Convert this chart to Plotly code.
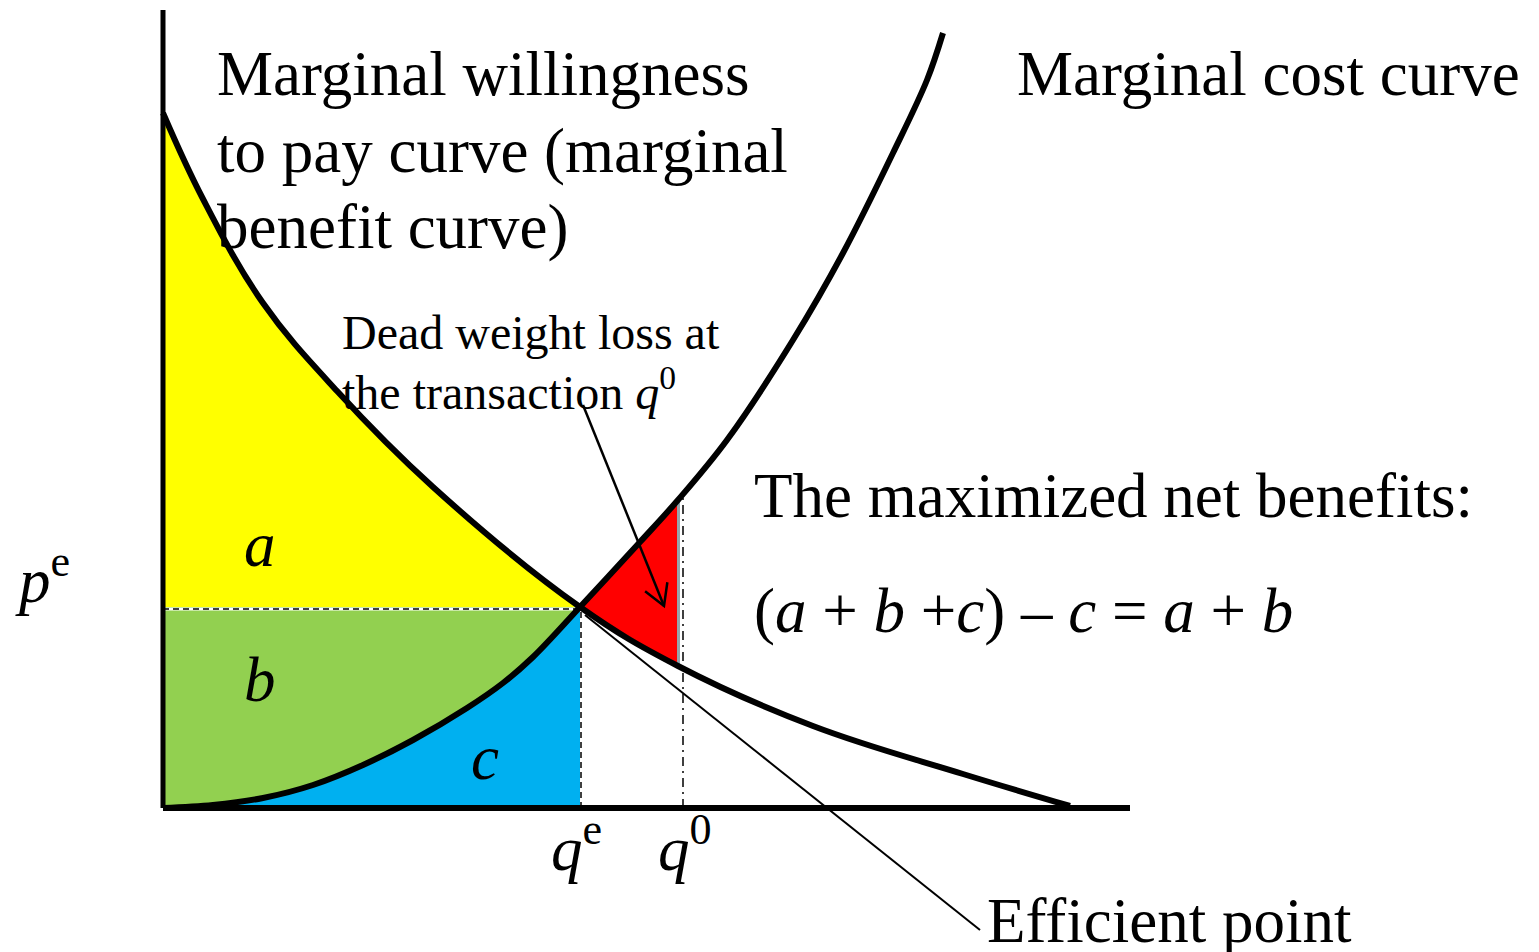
import numpy as np
import plotly.graph_objects as go

# ---- data (quantity q, price p) ----
mb_q = [0, 40, 100, 174, 270, 417, 515, 650, 800, 907]
mb_p = [695, 609, 505, 417, 321, 201, 142, 82, 34, 2]

mc_q = [0, 50, 100, 150, 200, 250, 304, 340, 370, 417, 477, 515, 564, 630, 680, 730, 764, 780]
mc_p = [0, 3, 10, 23, 43, 68, 100, 125, 151, 201, 266, 308, 368, 468, 555, 655, 728, 775]

q_e = 417
p_e = 201
q_0 = 520
q_0_edge = 515

axis_q_max = 967
axis_p_max = 798

SERIF = "Liberation Serif, Times New Roman, serif"

fig = go.Figure()

def seg(qs, ps, lo, hi):
    a = [(q, p) for q, p in zip(qs, ps) if lo <= q <= hi]
    return [x[0] for x in a], [x[1] for x in a]

SM = 1.1

# blue area c (under MC up to q_e)
cq, cp = seg(mc_q, mc_p, 0, q_e)
fig.add_trace(go.Scatter(x=cq, y=cp, mode="lines", line=dict(width=0, shape="spline"),
                         fill="tozeroy", fillcolor="#00B0F0", hoverinfo="skip"))
# green area b (between p_e and MC)
fig.add_trace(go.Scatter(x=[0, q_e], y=[p_e, p_e], mode="lines", line=dict(width=0),
                         fill="tonexty", fillcolor="#92D050", hoverinfo="skip"))
# yellow area a (between MB and p_e)
aq, ap = seg(mb_q, mb_p, 0, q_e)
fig.add_trace(go.Scatter(x=aq, y=ap, mode="lines", line=dict(width=0, shape="spline", smoothing=SM),
                         fill="tonexty", fillcolor="#FFFF00", hoverinfo="skip"))
# red dead weight loss
rq1, rp1 = seg(mb_q, mb_p, q_e, q_0_edge)
rq2, rp2 = seg(mc_q, mc_p, q_e, q_0_edge)
fig.add_trace(go.Scatter(x=rq1, y=rp1, mode="lines", line=dict(width=0, shape="spline"),
                         hoverinfo="skip"))
fig.add_trace(go.Scatter(x=rq2, y=rp2, mode="lines", line=dict(width=0, shape="spline"),
                         fill="tonexty", fillcolor="#FF0000", hoverinfo="skip"))

# grey edge at q0
fig.add_trace(go.Scatter(x=[q_0_edge + 0.5, q_0_edge + 0.5], y=[rp1[-1] - 2, rp2[-1] + 3], mode="lines",
                         line=dict(color="#95A5AD", width=3), hoverinfo="skip"))

# dashed guides
fig.add_trace(go.Scatter(x=[0, q_e], y=[p_e - 2, p_e - 2], mode="lines",
                         line=dict(color="white", width=3), hoverinfo="skip"))
fig.add_trace(go.Scatter(x=[0, q_e], y=[p_e - 2, p_e - 2], mode="lines",
                         line=dict(color="black", width=1.5, dash="6px,4px"), hoverinfo="skip"))
fig.add_trace(go.Scatter(x=[q_e + 1, q_e + 1], y=[0, p_e - 4], mode="lines",
                         line=dict(color="black", width=1.5, dash="6px,4px"), hoverinfo="skip"))
fig.add_trace(go.Scatter(x=[q_0, q_0], y=[0, rp2[-1] + 8], mode="lines",
                         line=dict(color="black", width=1.5, dash="9px,5px,2px,5px"), hoverinfo="skip"))

# efficient point pointer line
ef_start = (q_e + 5, p_e - 8)
ef_end = (817, -122)
fig.add_trace(go.Scatter(x=[ef_start[0], ef_end[0]], y=[ef_start[1], ef_end[1]], mode="lines",
                         line=dict(color="black", width=2), hoverinfo="skip"))

# curves
fig.add_trace(go.Scatter(x=mb_q, y=mb_p, mode="lines",
                         line=dict(color="black", width=6, shape="spline", smoothing=SM),
                         hoverinfo="skip"))
fig.add_trace(go.Scatter(x=mc_q, y=mc_p, mode="lines", line=dict(color="black", width=6, shape="spline"),
                         hoverinfo="skip"))

# axes
fig.add_trace(go.Scatter(x=[0, 0], y=[0, axis_p_max], mode="lines", line=dict(color="black", width=5),
                         hoverinfo="skip"))
fig.add_trace(go.Scatter(x=[0, axis_q_max], y=[0, 0], mode="lines", line=dict(color="black", width=6),
                         hoverinfo="skip"))

# dead weight loss arrow (open V head)
a0 = np.array([420.0, 403.0])
a1 = np.array([501.0, 202.0])
d = (a1 - a0) / np.linalg.norm(a1 - a0)
ang = np.deg2rad(30)
L = 24
def rot(v, t):
    return np.array([v[0] * np.cos(t) - v[1] * np.sin(t), v[0] * np.sin(t) + v[1] * np.cos(t)])
h1 = a1 - L * rot(d, ang)
h2 = a1 - L * rot(d, -ang)
fig.add_trace(go.Scatter(x=[a0[0], a1[0]], y=[a0[1], a1[1]], mode="lines",
                         line=dict(color="black", width=2.5), hoverinfo="skip"))
fig.add_trace(go.Scatter(x=[h1[0], a1[0], h2[0]], y=[h1[1], a1[1], h2[1]], mode="lines",
                         line=dict(color="black", width=2.5), hoverinfo="skip"))

def txt(x, y, s, size=63, xanchor="left"):
    fig.add_annotation(x=x, y=y, text=s, showarrow=False, xanchor=xanchor, yanchor="middle",
                       font=dict(family=SERIF, size=size, color="black"), xref="x", yref="y")

txt(52, 734, "Marginal willingness")
txt(52, 657, "to pay curve (marginal")
txt(52, 581, "benefit curve)")
txt(852, 734, "Marginal cost curve")
txt(177, 476, "Dead weight loss at", size=48)
txt(177, 419, "the transaction <i>q</i><sup>0</sup>", size=48)
txt(589, 312, "The maximized net benefits:")
txt(589, 197, "(<i>a</i> + <i>b</i> +<i>c</i>) – <i>c</i> = <i>a</i> + <i>b</i>")
txt(-150, 232, "<i>p</i><sup>e</sup>")
txt(97, 263, "<i>a</i>", xanchor="center")
txt(97, 128, "<i>b</i>", xanchor="center")
txt(322, 50, "<i>c</i>", xanchor="center")
txt(386, -36, "<i>q</i><sup>e</sup>")
txt(493, -36, "<i>q</i><sup>0</sup>")
txt(822, -113, "Efficient point")

fig.update_layout(
    width=1539, height=952, margin=dict(l=0, r=0, t=0, b=0),
    paper_bgcolor="white", plot_bgcolor="white", showlegend=False,
    xaxis=dict(range=[-163, 1376], visible=False, fixedrange=True),
    yaxis=dict(range=[-144, 808], visible=False, fixedrange=True),
)

fig.write_html("out.html", config={"displayModeBar": False},
               post_script="document.body.style.margin='0';document.body.style.overflow='hidden';")
